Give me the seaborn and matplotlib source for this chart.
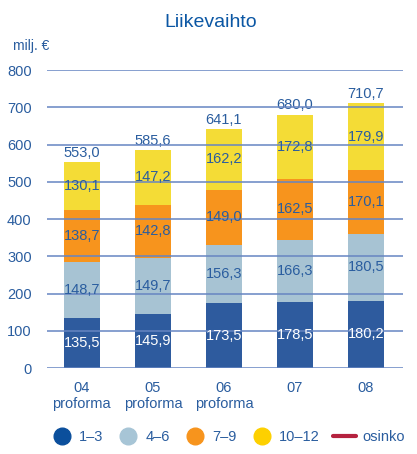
import matplotlib.pyplot as plt
from matplotlib.lines import Line2D
import pandas as pd
import seaborn as sns

years = ['04\nproforma', '05\nproforma', '06\nproforma', '07', '08']
q1 = [135.5, 145.9, 173.5, 178.5, 180.2]
q2 = [148.7, 149.7, 156.3, 166.3, 180.5]
q3 = [138.7, 142.8, 149.0, 162.5, 170.1]
q4 = [130.1, 147.2, 162.2, 172.8, 179.9]
totals = [553.0, 585.6, 641.1, 680.0, 710.7]
series_names = ['1–3', '4–6', '7–9', '10–12']

bar_colors = ['#2e5b9e', '#a7c3d3', '#f7941d', '#f4dc36']
legend_colors = ['#0b4f9c', '#a7c5d6', '#f7941d', '#fdd000']
text_blue = '#2a5d9f'

sns.set_style('white')
plt.rcParams['font.family'] = ['Liberation Sans Narrow', 'Liberation Sans', 'DejaVu Sans']

df = pd.DataFrame({'year': years, '1–3': q1, '4–6': q2, '7–9': q3, '10–12': q4})

fig = plt.figure(figsize=(4.17, 4.54), dpi=100)
ax = fig.add_axes([0.1127, 0.1894, 0.8537, 0.6564])

bottom = [0.0] * len(years)
for name, col in zip(series_names, bar_colors):
    sns.barplot(data=df, x='year', y=name, color=col, bottom=bottom, width=0.5,
                saturation=1, linewidth=0, ax=ax, zorder=2)
    vals = df[name].tolist()
    for i, v in enumerate(vals):
        tc = 'white' if name == '1–3' else text_blue
        ax.text(i, bottom[i] + v / 2, f'{v:.1f}'.replace('.', ','), ha='center', va='center',
                fontsize=10.5, color=tc, zorder=4)
    bottom = [b + v for b, v in zip(bottom, vals)]

for i, t in enumerate(totals):
    ax.text(i, t + 6, f'{t:.1f}'.replace('.', ','), ha='center', va='bottom',
            fontsize=10.5, color=text_blue)

for y in range(0, 900, 100):
    ax.axhline(y, color='#6685c2', lw=1.1, zorder=3)

ax.set_ylim(0, 800)
ax.set_xlim(-0.49, 4.52)
ax.set_yticks(range(0, 900, 100))
ax.tick_params(axis='both', length=0, labelsize=10.5, labelcolor=text_blue)
ax.tick_params(axis='y', pad=11)
ax.tick_params(axis='x', pad=9)
ax.set_xlabel('')
ax.set_ylabel('')
for s in ax.spines.values():
    s.set_visible(False)

fig.text(0.505, 0.950, 'Liikevaihto', ha='center', va='center', fontsize=14, color='#0b57a4')
fig.text(0.03, 0.898, 'milj. €', ha='left', va='center', fontsize=10, color=text_blue)

handles = [Line2D([], [], marker='o', ls='none', markersize=12, color=c) for c in legend_colors]
handles.append(Line2D([], [], color='#b5223f', lw=3))
fig.legend(handles, series_names + ['osinko'], loc='center', bbox_to_anchor=(0.545, 0.037),
           ncol=5, frameon=False, fontsize=10.5, labelcolor=text_blue, handlelength=1.6,
           handletextpad=0.4, columnspacing=0.9)

fig.savefig('out.png', dpi=100)
